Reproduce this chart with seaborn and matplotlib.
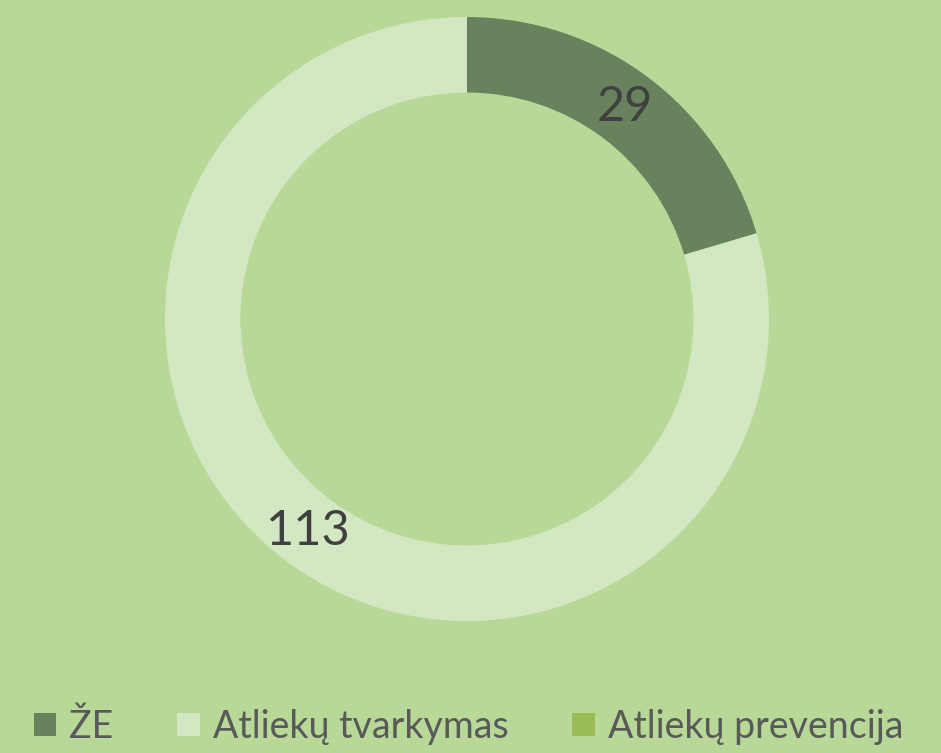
import matplotlib
matplotlib.use("Agg")
import matplotlib.pyplot as plt
import seaborn as sns

categories = ["ŽE", "Atliekų tvarkymas", "Atliekų prevencija"]
values = [29, 113, 0]
colors = ["#68825e", "#d3e7c2", "#9bbb59"]
bg = "#b8d898"
text_color = "#404040"

sns.set_theme(style="white", rc={"figure.facecolor": bg, "axes.facecolor": bg})
plt.rcParams["font.family"] = ["Lato", "DejaVu Sans"]

fig = plt.figure(figsize=(9.41, 7.53), dpi=100)
ax = fig.add_axes([0.1753, 0.1753, 0.6419, 0.8021])
ax.set_facecolor(bg)

total = sum(values)

def fmt(pct):
    v = round(pct * total / 100.0)
    return "" if v == 0 else f"{v}"

wedges, texts, autotexts = ax.pie(
    values, colors=colors, startangle=90, counterclock=False,
    wedgeprops=dict(width=0.25, edgecolor="none", linewidth=0),
    autopct=fmt, pctdistance=0.875,
    textprops=dict(color=text_color, fontsize=35),
)
ax.set_xlim(-1, 1)
ax.set_ylim(-1, 1)
ax.set_aspect("equal")
ax.axis("off")

leg = fig.legend(
    wedges, categories, loc="center", bbox_to_anchor=(0.498, 0.035),
    ncol=3, frameon=False, fontsize=27, handlelength=0.6, handleheight=0.6,
    handletextpad=0.35, columnspacing=1.7, labelcolor="#595959",
)

fig.savefig("out.png", dpi=100, facecolor=bg)
